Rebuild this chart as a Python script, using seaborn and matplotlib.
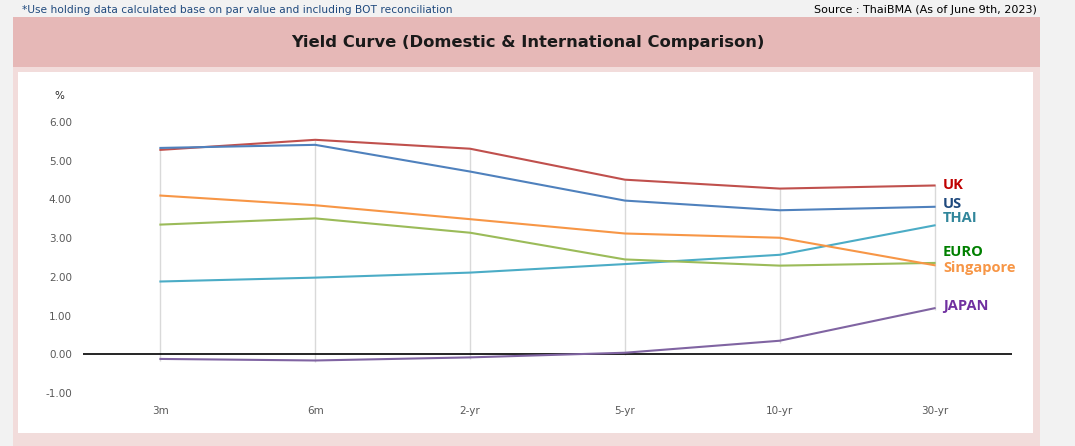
import pandas as pd
import matplotlib.pyplot as plt
import seaborn as sns
from matplotlib.patches import Rectangle

# Yield curve values (%)
tenors = ['3m', '6m', '2-yr', '5-yr', '10-yr', '30-yr']
uk = [5.28, 5.54, 5.31, 4.51, 4.28, 4.36]
us = [5.33, 5.41, 4.72, 3.97, 3.72, 3.81]
thai = [1.88, 1.98, 2.11, 2.33, 2.57, 3.33]
euro = [3.35, 3.51, 3.14, 2.45, 2.29, 2.36]
singapore = [4.10, 3.85, 3.49, 3.12, 3.01, 2.30]
japan = [-0.12, -0.16, -0.08, 0.04, 0.35, 1.19]

series_names = ['UK', 'US', 'THAI', 'EURO', 'Singapore', 'JAPAN']
line_colors = ['#c0504d', '#4f81bd', '#4bacc6', '#9bbb59', '#f79646', '#8064a2']
label_colors = ['#c00000', '#1f497d', '#31869b', '#008000', '#f79646', '#7030a0']
# vertical position of the end labels (in %)
label_y = [4.38, 3.89, 3.53, 2.63, 2.22, 1.24]

yticks = [-1, 0, 1, 2, 3, 4, 5, 6]

# build long-form table
values = [uk, us, thai, euro, singapore, japan]
rows = []
for name, vals in zip(series_names, values):
    for t, v in zip(tenors, vals):
        rows.append({'tenor': t, 'pos': tenors.index(t), 'country': name, 'yield': v})
df = pd.DataFrame(rows)

W, H = 1075, 446
fig = plt.figure(figsize=(W / 100, H / 100), dpi=100)
fig.patch.set_facecolor('#f2f2f2')

def px_rect(x0, y0, x1, y1, color):
    fig.patches.append(Rectangle((x0 / W, 1 - y1 / H), (x1 - x0) / W, (y1 - y0) / H,
                                 transform=fig.transFigure, facecolor=color,
                                 edgecolor='none', zorder=-5))

px_rect(13, 17, 1040, 446, '#f2dcdb')
px_rect(13, 17, 1040, 67, '#e6b8b7')
px_rect(18, 72, 1033, 433, '#ffffff')

fig.text(22 / W, 1 - 10 / H, '*Use holding data calculated base on par value and including BOT reconciliation',
         color='#1f497d', fontsize=7.7, ha='left', va='center')
fig.text(1037 / W, 1 - 10 / H, 'Source : ThaiBMA (As of June 9th, 2023)',
         color='#000000', fontsize=8, ha='right', va='center')
fig.text(528 / W, 1 - 42 / H, 'Yield Curve (Domestic & International Comparison)',
         color='#1a1a1a', fontsize=11.8, fontweight='bold', ha='center', va='center')

ax = fig.add_axes([83 / W, (H - 393) / H, (1012 - 83) / W, (393 - 122) / H])
ax.set_facecolor('none')

# drop lines at each tenor
lo = df.groupby('pos')['yield'].min()
hi = df.groupby('pos')['yield'].max()
ax.vlines(lo.index, lo.values - 0.05, hi.values, color='#d9d9d9', lw=1, zorder=1)

sns.lineplot(data=df, x='pos', y='yield', hue='country', hue_order=series_names,
             palette=dict(zip(series_names, line_colors)), sort=False,
             linewidth=1.5, legend=False, ax=ax, zorder=3)

ax.axhline(0, color='black', lw=1.2, zorder=2)

ax.set_xlim(-0.5, len(tenors) - 0.5)
ax.set_ylim(-1, 6)
ax.set_yticks(yticks)
ax.set_yticklabels([f'{v:.2f}' for v in yticks])
ax.set_xticks(range(len(tenors)))
ax.set_xticklabels(tenors)
ax.tick_params(length=0, labelsize=7.5, labelcolor='#595959')
ax.tick_params(axis='y', pad=8)
ax.tick_params(axis='x', pad=9)
ax.set_xlabel('')
ax.set_ylabel('')
for s in ax.spines.values():
    s.set_visible(False)

fig.text(59 / W, 1 - 96 / H, '%', fontsize=7.5, color='#262626', ha='center', va='center')

for name, c, ly in zip(series_names, label_colors, label_y):
    ax.text(len(tenors) - 1 + 0.055, ly, name, color=c, fontsize=10.5, fontweight='bold',
            family=['Open Sans', 'DejaVu Sans'], ha='left', va='center', clip_on=False)

fig.savefig('out.png', dpi=100, facecolor=fig.get_facecolor())
